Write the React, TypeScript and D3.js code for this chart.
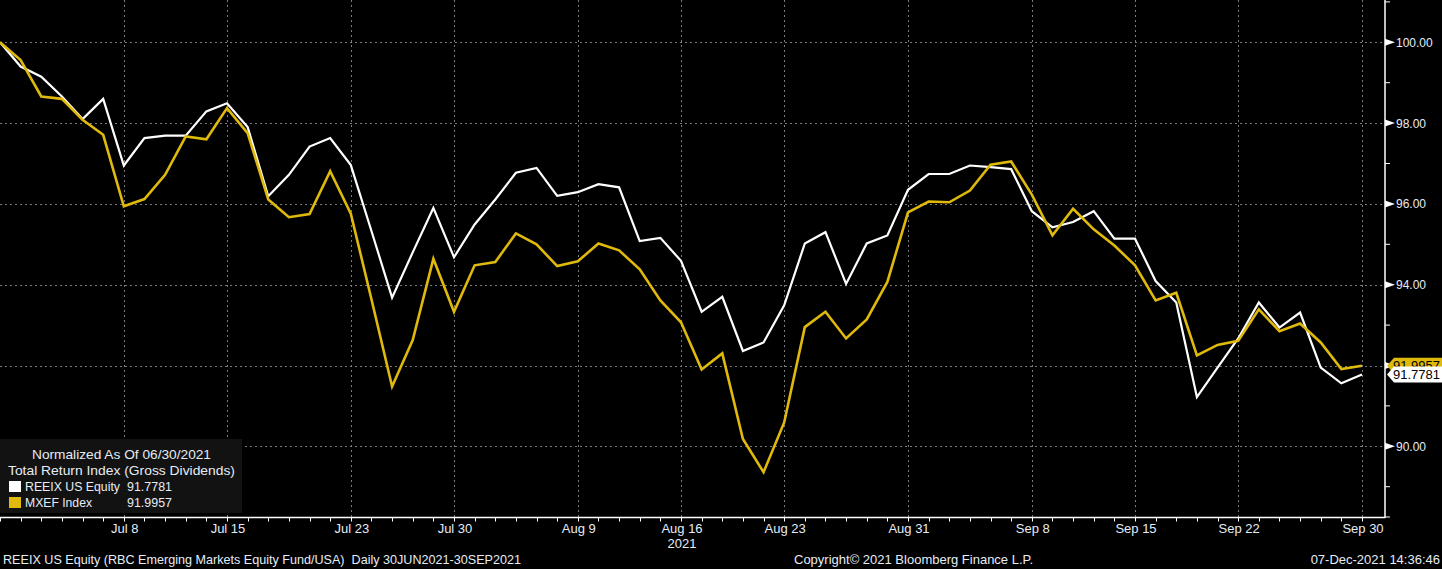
import React from "react";
import * as d3 from "d3";

// Trading days (weekdays) 30 Jun 2021 – 30 Sep 2021
const dates: Date[] = d3.timeDay
  .range(new Date(2021, 5, 30), new Date(2021, 9, 1))
  .filter((d) => d.getDay() !== 0 && d.getDay() !== 6);

const reeix: number[] = [
  100, 99.4, 99.15, 98.66, 98.1, 98.6, 96.95, 97.63, 97.69, 97.69,
  98.29, 98.49, 97.9, 96.19, 96.72, 97.42, 97.63, 96.96, 95.33, 93.68,
  94.8, 95.9, 94.68, 95.49, 96.11, 96.77, 96.89, 96.2, 96.29, 96.49,
  96.41, 95.08, 95.16, 94.59, 93.33, 93.7, 92.36, 92.57, 93.49, 95.02,
  95.3, 94.02, 95.02, 95.22, 96.35, 96.74, 96.74, 96.95, 96.91, 96.86,
  95.82, 95.42, 95.55, 95.82, 95.14, 95.14, 94.09, 93.56, 91.22, 91.95,
  92.67, 93.56, 92.94, 93.31, 91.95, 91.56, 91.7781,
];

const mxef: number[] = [
  100, 99.56, 98.66, 98.6, 98.08, 97.71, 95.94, 96.12, 96.72, 97.67,
  97.6, 98.37, 97.75, 96.11, 95.67, 95.75, 96.81, 95.76, 93.64, 91.48,
  92.63, 94.64, 93.33, 94.48, 94.56, 95.27, 95.0, 94.46, 94.58, 95.02,
  94.85, 94.38, 93.61, 93.07, 91.9, 92.3, 90.18, 89.36, 90.59, 92.95,
  93.33, 92.67, 93.14, 94.07, 95.79, 96.06, 96.04, 96.33, 96.97, 97.05,
  96.23, 95.22, 95.88, 95.37, 94.97, 94.48, 93.61, 93.8, 92.25, 92.51,
  92.61, 93.39, 92.85, 93.04, 92.57, 91.91, 91.9957,
];

const xTickLabels: string[] = [
  "Jul 8", "Jul 15", "Jul 23", "Jul 30", "Aug 9", "Aug 16",
  "Aug 23", "Aug 31", "Sep 8", "Sep 15", "Sep 22", "Sep 30",
];
const yMajorTicks: number[] = [90, 92, 94, 96, 98, 100];
const yMinorTicks: number[] = [89, 91, 93, 95, 97, 99, 101];

const seriesNames: string[] = ["REEIX US Equity", "MXEF Index"];
const lastValues: string[] = ["91.7781", "91.9957"];

const W = 1442;
const H = 569;
const PLOT_R = 1385;
const PLOT_B = 517.5;
const WHITE = "#ffffff";
const YELLOW = "#dfb90b";
const GRID = "#7a7a7a";
const TXT = "#e6ecf5";

export default function App() {
  const x = d3.scaleLinear().domain([0, dates.length - 1]).range([0, 1362]);
  const y = d3.scaleLinear().domain([100, 90]).range([42.3, 446.3]);
  const line = d3
    .line<number>()
    .x((_, i) => x(i))
    .y((v) => y(v));

  const fmt = d3.timeFormat("%b %-d");
  const labelIdx = xTickLabels.map((l) => dates.findIndex((d) => fmt(d) === l));

  const font = "'Liberation Sans', Arial, sans-serif";
  const LF = 13;
  const fit = { lengthAdjust: "spacingAndGlyphs" as const };

  const tag = (v: number, fill: string, label: string) => {
    const cy = y(v);
    const h = 8;
    const pts = [
      [1387, cy],
      [1394, cy - h],
      [W, cy - h],
      [W, cy + h],
      [1394, cy + h],
    ]
      .map((p) => p.join(","))
      .join(" ");
    return (
      <g>
        <polygon points={pts} fill={fill} />
        <text x={1393} y={cy + 4.5} fill="#000" fontSize={13} fontFamily={font}>
          {label}
        </text>
      </g>
    );
  };

  return (
    <div style={{ position: "fixed", left: 0, top: 0, width: W, height: H, background: "#000" }}>
      <svg width={W} height={H} style={{ display: "block" }}>
        <rect x={0} y={0} width={W} height={H} fill="#000" />
        {/* grid */}
        <g stroke={GRID} strokeWidth={1} strokeDasharray="2,3">
          {yMajorTicks.map((t) => (
            <line key={"h" + t} x1={0} x2={PLOT_R} y1={Math.round(y(t)) + 0.5} y2={Math.round(y(t)) + 0.5} />
          ))}
          {labelIdx.map((i, k) => (
            <line key={"v" + k} x1={Math.round(x(i)) + 0.5} x2={Math.round(x(i)) + 0.5} y1={0} y2={PLOT_B} />
          ))}
        </g>
        {/* lines */}
        <path d={line(reeix) || ""} fill="none" stroke={WHITE} strokeWidth={2.2} strokeLinejoin="miter" />
        <path d={line(mxef) || ""} fill="none" stroke={YELLOW} strokeWidth={2.6} strokeLinejoin="miter" />

        {/* legend box */}
        <rect x={0} y={439} width={242} height={74} fill="#121212" />
        <text x={32} y={459} textLength={179} {...fit} fill={TXT} fontSize={LF} fontFamily={font}>
          Normalized As Of 06/30/2021
        </text>
        <text x={8} y={475} textLength={227} {...fit} fill={TXT} fontSize={LF} fontFamily={font}>
          Total Return Index (Gross Dividends)
        </text>
        <rect x={9} y={481} width={12} height={11} fill={WHITE} />
        <text x={25} y={491} textLength={95} {...fit} fill={TXT} fontSize={LF} fontFamily={font}>{seriesNames[0]}</text>
        <text x={127} y={491} textLength={45} {...fit} fill={TXT} fontSize={LF} fontFamily={font}>{lastValues[0]}</text>
        <rect x={9} y={497} width={12} height={11} fill={YELLOW} />
        <text x={25} y={507} textLength={67} {...fit} fill={TXT} fontSize={LF} fontFamily={font}>{seriesNames[1]}</text>
        <text x={127} y={507} textLength={45} {...fit} fill={TXT} fontSize={LF} fontFamily={font}>{lastValues[1]}</text>

        {/* axes */}
        <line x1={0} x2={PLOT_R + 0.5} y1={PLOT_B} y2={PLOT_B} stroke="#fff" strokeWidth={1.5} />
        <line x1={PLOT_R} x2={PLOT_R} y1={0} y2={PLOT_B} stroke="#fff" strokeWidth={1.5} />
        {dates.map((_, i) => (
          <line key={"xt" + i} x1={Math.round(x(i)) + 0.5} x2={Math.round(x(i)) + 0.5} y1={PLOT_B} y2={PLOT_B + 4} stroke="#fff" strokeWidth={1} />
        ))}
        {labelIdx.map((i, k) => (
          <text key={"xl" + k} x={x(i) + 1} y={533} textAnchor="middle" fill={TXT} fontSize={13} fontFamily={font}>
            {xTickLabels[k]}
          </text>
        ))}
        <text x={x(labelIdx[5]) + 1} y={548} textAnchor="middle" fill={TXT} fontSize={13} fontFamily={font}>
          2021
        </text>

        {/* right axis */}
        {yMinorTicks.map((t) => (
          <line key={"ym" + t} x1={PLOT_R} x2={PLOT_R + 5} y1={y(t)} y2={y(t)} stroke="#fff" strokeWidth={1} />
        ))}
        <line x1={PLOT_R} x2={PLOT_R + 5} y1={PLOT_B - 0.5} y2={PLOT_B - 0.5} stroke="#fff" strokeWidth={1} />
        {yMajorTicks.map((t) => (
          <g key={"yl" + t}>
            <polygon
              points={`${PLOT_R},${y(t) - 3.5} ${PLOT_R + 10},${y(t)} ${PLOT_R},${y(t) + 3.5}`}
              fill="#fff"
            />
            <text x={1396} y={y(t) + 4.5} fill={TXT} fontSize={12} fontFamily={font}>
              {d3.format(".2f")(t)}
            </text>
          </g>
        ))}

        {tag(mxef[mxef.length - 1], YELLOW, lastValues[1])}
        {tag(reeix[reeix.length - 1], WHITE, lastValues[0])}

        {/* footer */}
        <text x={3} y={564} fill={TXT} fontSize={12.6} fontFamily={font} xmlSpace="preserve">
          REEIX US Equity (RBC Emerging Markets Equity Fund/USA)  Daily 30JUN2021-30SEP2021
        </text>
        <text x={794} y={564} fill={TXT} fontSize={13} fontFamily={font}>
          Copyright© 2021 Bloomberg Finance L.P.
        </text>
        <text x={1440} y={564} textAnchor="end" fill={TXT} fontSize={13} fontFamily={font}>
          07-Dec-2021 14:36:46
        </text>
      </svg>
    </div>
  );
}
